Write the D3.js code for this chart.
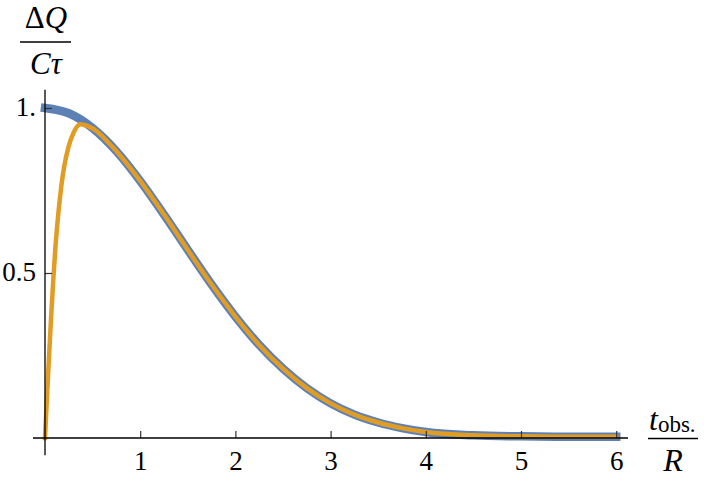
<!DOCTYPE html>
<html>
<head>
<meta charset="utf-8">
<script src="https://cdn.jsdelivr.net/npm/d3@7"></script>
<style>
  body { margin: 0; background: #fff; }
  svg text { font-family: "Liberation Serif", "Times New Roman", Times, "DejaVu Serif", serif; fill: #000; }
</style>
</head>
<body>
<div class="plot"></div>
<script>
// values
var blueX = [0, 0.25, 0.5, 0.75, 1, 1.25, 1.5, 1.75, 2, 2.25, 2.5, 2.75, 3, 3.25, 3.5, 3.75, 4, 4.5, 5, 5.5, 6];
var blueY = [1, 0.984, 0.939, 0.869, 0.779, 0.677, 0.57, 0.465, 0.368, 0.282, 0.21, 0.151, 0.105, 0.071, 0.047, 0.03, 0.018, 0.008, 0.005, 0.004, 0.004];

var orangeX = [0, 0.02, 0.042, 0.065, 0.087, 0.11, 0.14, 0.17, 0.2, 0.245, 0.3, 0.37, 0.45, 0.55, 0.65, 0.75, 1, 1.25, 1.5, 1.75, 2, 2.25, 2.5, 2.75, 3, 3.25, 3.5, 3.75, 4, 4.5, 5, 5.5, 6];
var orangeY = [0, 0.12, 0.245, 0.37, 0.48, 0.58, 0.68, 0.76, 0.82, 0.88, 0.925, 0.951, 0.945, 0.928, 0.9, 0.869, 0.779, 0.677, 0.57, 0.465, 0.368, 0.282, 0.21, 0.151, 0.105, 0.071, 0.047, 0.03, 0.018, 0.008, 0.005, 0.004, 0.004];

var xTicks = [1, 2, 3, 4, 5, 6];
var yTicks = [0.5, 1];
var yTickLabels = ["0.5", "1."];

var serif = "'Liberation Serif', 'Times New Roman', Times, 'DejaVu Serif', serif";
var width = 706, height = 484;

var x = d3.scaleLinear().domain([0, 6]).range([45, 616.2]);
var y = d3.scaleLinear().domain([0, 1]).range([438, 108]);

var svg = d3.select(".plot").append("svg")
  .attr("width", width)
  .attr("height", height);

function makeLine(xs, ys) {
  var pts = xs.map(function(d, i) { return [d, ys[i]]; });
  return d3.line()
    .x(function(d) { return x(d[0]); })
    .y(function(d) { return y(d[1]); })
    .curve(d3.curveMonotoneX)(pts);
}

svg.append("path")
  .attr("d", makeLine(blueX, blueY))
  .attr("fill", "none")
  .attr("stroke", "#5E81B5")
  .attr("stroke-width", 8.5)
  .attr("stroke-linecap", "square")
  .attr("stroke-linejoin", "round");

svg.append("path")
  .attr("d", makeLine(orangeX, orangeY))
  .attr("fill", "none")
  .attr("stroke", "#E19C24")
  .attr("stroke-width", 4.5)
  .attr("stroke-linecap", "square")
  .attr("stroke-linejoin", "round");

// axes
var xAxis = svg.append("g")
  .attr("transform", "translate(0," + y(0) + ")")
  .call(d3.axisBottom(x).tickValues(xTicks).tickFormat(d3.format("d"))
    .tickSizeInner(-7).tickSizeOuter(0).tickPadding(0));
xAxis.attr("font-family", serif);
xAxis.select(".domain").remove();
xAxis.selectAll(".tick line").attr("stroke", "#333").attr("stroke-width", 1.2);
xAxis.selectAll(".tick text")
  .attr("y", 32).attr("dy", null)
  .style("font-size", "27px")
  .style("font-family", serif);

var yAxis = svg.append("g")
  .attr("transform", "translate(" + x(0) + ",0)")
  .call(d3.axisLeft(y).tickValues(yTicks).tickSizeInner(-7).tickSizeOuter(0).tickPadding(9)
    .tickFormat(function(d, i) { return yTickLabels[i]; }));
yAxis.attr("font-family", serif);
yAxis.select(".domain").remove();
yAxis.selectAll(".tick line").attr("stroke", "#333").attr("stroke-width", 1.2);
yAxis.selectAll(".tick text")
  .attr("dy", "0.27em")
  .style("font-size", "27px")
  .style("font-family", serif);

svg.append("line")
  .attr("x1", x(-0.126)).attr("x2", x(6.124))
  .attr("y1", y(0)).attr("y2", y(0))
  .attr("stroke", "#000").attr("stroke-width", 1.3);
svg.append("line")
  .attr("x1", x(0)).attr("x2", x(0))
  .attr("y1", y(-0.052)).attr("y2", y(1.055))
  .attr("stroke", "#000").attr("stroke-width", 1.3);

// y label: ΔQ / Cτ
var yl = svg.append("g").attr("transform", "translate(46,0)");
var t1 = yl.append("text").attr("x", 0).attr("y", 28).attr("text-anchor", "middle")
  .style("font-size", "31px").style("font-family", serif);
t1.append("tspan").text("Δ");
t1.append("tspan").style("font-style", "italic").text("Q");
yl.append("line").attr("x1", -26).attr("x2", 25).attr("y1", 42).attr("y2", 42)
  .attr("stroke", "#000").attr("stroke-width", 1.3);
yl.append("text").attr("x", 0).attr("y", 74).attr("text-anchor", "middle")
  .style("font-size", "31px").style("font-style", "italic").style("font-family", serif).text("Cτ");

// x label: t_obs. / R
var xl = svg.append("g").attr("transform", "translate(673,0)");
var t2 = xl.append("text").attr("x", -24).attr("y", 430)
  .style("font-size", "32px").style("font-family", serif);
t2.append("tspan").style("font-style", "italic").text("t");
t2.append("tspan").attr("dy", 2).style("font-size", "23px").text("obs.");
xl.append("line").attr("x1", -25).attr("x2", 25).attr("y1", 438.5).attr("y2", 438.5)
  .attr("stroke", "#000").attr("stroke-width", 1.3);
xl.append("text").attr("x", 0).attr("y", 471).attr("text-anchor", "middle")
  .style("font-size", "32px").style("font-style", "italic").style("font-family", serif).text("R");
</script>
</body>
</html>
